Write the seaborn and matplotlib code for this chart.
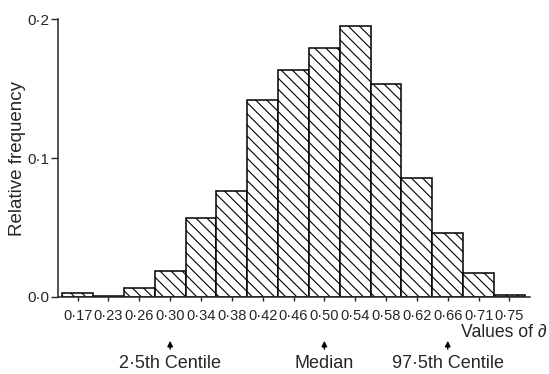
import numpy as np
import pandas as pd
import matplotlib
matplotlib.use('Agg')
import matplotlib.pyplot as plt
import seaborn as sns

# bin labels (values of delta) and relative frequencies
bins = ['0·17', '0·23', '0·26', '0·30', '0·34', '0·38', '0·42', '0·46',
        '0·50', '0·54', '0·58', '0·62', '0·66', '0·71', '0·75']
rel_freq = [0.003, 0.001, 0.0065, 0.019, 0.057, 0.0765, 0.142, 0.163,
            0.179, 0.195, 0.153, 0.0855, 0.046, 0.017, 0.0015]

# markers below the axis: (bin index, label)
markers = [(3, '2·5th Centile'), (8, 'Median'), (12, '97·5th Centile')]

df = pd.DataFrame({'delta': bins, 'freq': rel_freq})

sns.set_style('ticks')
plt.rcParams['font.family'] = ['Liberation Sans', 'DejaVu Sans']
plt.rcParams['hatch.linewidth'] = 0.8

fig = plt.figure(figsize=(5.49, 3.74), dpi=100)
ax = fig.add_axes([0.106, 0.206, 0.859, 0.743])

sns.barplot(data=df, x='delta', y='freq', order=bins, color='white',
            edgecolor='black', linewidth=1.1, width=1.0, hatch='\\\\\\',
            ax=ax)

ax.set_xlim(-0.63, 14.66)
ax.set_ylim(0, 0.2)
ax.set_yticks([0.0, 0.1, 0.2])
ax.set_yticklabels(['0·0', '0·1', '0·2'], fontsize=11)
ax.tick_params(axis='x', labelsize=10.5, length=3, width=1, pad=6)
ax.tick_params(axis='y', length=5, width=1, pad=1)
ax.set_xlabel('')
ax.set_ylabel('Relative frequency', fontsize=13.5)
ax.yaxis.set_label_coords(-0.068, 0.5)
sns.despine(ax=ax)
for sp in ['left', 'bottom']:
    ax.spines[sp].set_linewidth(1.1)

fig.text(0.995, 0.112, 'Values of ∂', ha='right', va='center', fontsize=12.7)

trans = ax.get_xaxis_transform()
for idx, lab in markers:
    ax.annotate('', xy=(idx, -0.148), xytext=(idx, -0.198), xycoords=trans,
                arrowprops=dict(arrowstyle='-|>', color='black', lw=1,
                                mutation_scale=8))
    ax.text(idx, -0.24, lab, transform=trans, ha='center', va='center',
            fontsize=13)

fig.savefig('out.png', dpi=100)
